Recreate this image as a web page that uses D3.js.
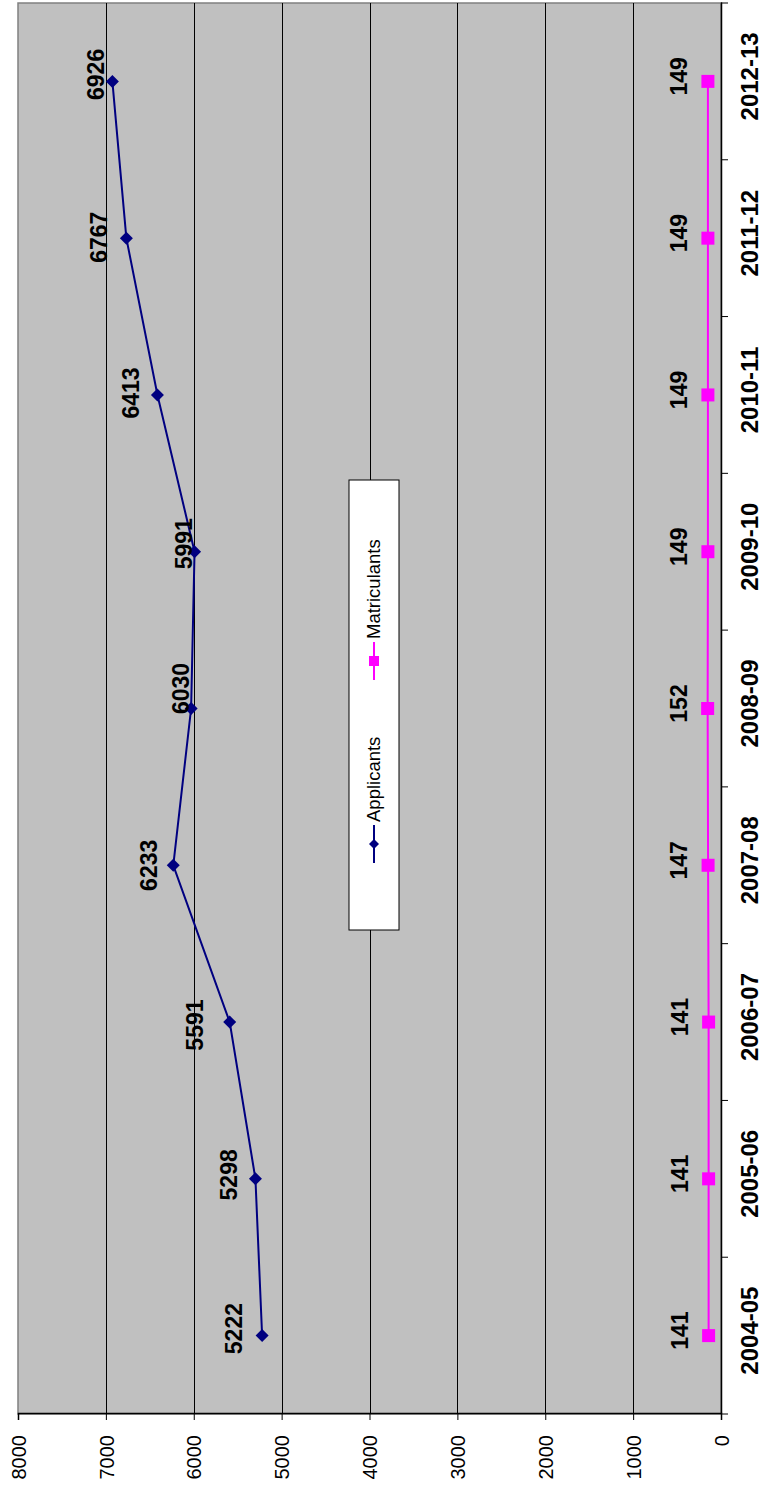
<!DOCTYPE html>
<html>
<head>
<meta charset="utf-8">
<script src="https://cdn.jsdelivr.net/npm/d3@7"></script>
<style>
  html, body { margin: 0; padding: 0; background: #ffffff; }
  svg { display: block; }
  text { font-family: "Liberation Sans", Arial, sans-serif; }
</style>
</head>
<body>
<script>
// ---- data ----
const categories = ["2004-05", "2005-06", "2006-07", "2007-08", "2008-09", "2009-10", "2010-11", "2011-12", "2012-13"];
const applicants = [5222, 5298, 5591, 6233, 6030, 5991, 6413, 6767, 6926];
const matriculants = [141, 141, 141, 147, 152, 149, 149, 149, 149];
const valueTicks = [0, 1000, 2000, 3000, 4000, 5000, 6000, 7000, 8000];
const seriesNames = ["Applicants", "Matriculants"];

// ---- layout (chart is drawn unrotated, then turned -90deg) ----
const W = 763, H = 1487;          // screen size
const plot = { left: 73, right: 1484, top: 18, bottom: 721 };
// per-label nudges for applicant labels [dx, baseline offset] (px, unrotated frame)
const appLabelShift = [[7, -20], [4, -18], [-3, -27], [0, -16], [20, -2], [8, -3], [2, -18], [1, -19], [7, -8]];

const svg = d3.select("body").append("svg").attr("width", W).attr("height", H);
const g = svg.append("g").attr("transform", `translate(0,${H}) rotate(-90)`);

const x = d3.scaleBand().domain(categories).range([plot.left, plot.right]).padding(0);
const y = d3.scaleLinear().domain([0, 8000]).range([plot.bottom, plot.top]);
const cx = d => x(d) + x.bandwidth() / 2;

// plot background
g.append("rect")
  .attr("x", plot.left).attr("y", plot.top)
  .attr("width", plot.right - plot.left).attr("height", plot.bottom - plot.top)
  .attr("fill", "#C0C0C0").attr("stroke", "#808080").attr("stroke-width", 1.5);

// gridlines
g.append("g").selectAll("line")
  .data(valueTicks.filter(v => v > 0 && v < 8000))
  .join("line")
  .attr("x1", plot.left).attr("x2", plot.right)
  .attr("y1", d => Math.round(y(d)) + 0.5).attr("y2", d => Math.round(y(d)) + 0.5)
  .attr("stroke", "#000").attr("stroke-width", 1);

// value axis
const yAxis = d3.axisLeft(y).tickValues(valueTicks).tickSize(6).tickPadding(15).tickFormat(d3.format("d"));
const ya = g.append("g").attr("transform", `translate(${plot.left},0)`).call(yAxis);
ya.select(".domain").attr("stroke", "#000").attr("stroke-width", 1.5);
ya.selectAll(".tick line").attr("stroke", "#000");
ya.selectAll(".tick text").attr("font-size", 20).attr("fill", "#000")
  .attr("font-family", "'Liberation Sans', Arial, sans-serif").attr("dy", "0.36em");

// category axis
const xAxis = d3.axisBottom(x).tickSize(0).tickFormat(d => d);
const xa = g.append("g").attr("transform", `translate(0,${plot.bottom})`).call(xAxis);
xa.select(".domain").attr("stroke", "#000").attr("stroke-width", 1.5);
xa.selectAll(".tick text").attr("font-size", 24).attr("font-weight", "bold").attr("fill", "#000")
  .attr("font-family", "'Liberation Sans', Arial, sans-serif")
  .attr("y", 37).attr("dy", 0).attr("dx", 5);
// tick marks between categories
g.append("g").selectAll("line")
  .data(d3.range(categories.length + 1))
  .join("line")
  .attr("x1", i => plot.left + i * x.bandwidth()).attr("x2", i => plot.left + i * x.bandwidth())
  .attr("y1", plot.bottom).attr("y2", plot.bottom + 7)
  .attr("stroke", "#000").attr("stroke-width", 1);

// series
const line = d3.line().x((d, i) => cx(categories[i])).y(d => y(d));
const diamond = s => `M0,${-s}L${s},0L0,${s}L${-s},0Z`;

g.append("path").datum(applicants).attr("d", line)
  .attr("fill", "none").attr("stroke", "#000080").attr("stroke-width", 2);
g.append("path").datum(matriculants).attr("d", line)
  .attr("fill", "none").attr("stroke", "#FF00FF").attr("stroke-width", 2);

g.append("g").selectAll("path").data(applicants).join("path")
  .attr("transform", (d, i) => `translate(${cx(categories[i])},${y(d)})`)
  .attr("d", diamond(6.5)).attr("fill", "#000080");
g.append("g").selectAll("rect").data(matriculants).join("rect")
  .attr("x", (d, i) => cx(categories[i]) - 6.5).attr("y", d => y(d) - 6.5)
  .attr("width", 13).attr("height", 13).attr("fill", "#FF00FF");

// data labels
g.append("g").selectAll("text").data(applicants).join("text")
  .attr("x", (d, i) => cx(categories[i]) + appLabelShift[i][0])
  .attr("y", (d, i) => y(d) + appLabelShift[i][1])
  .attr("text-anchor", "middle").attr("font-size", 23).attr("font-weight", "bold")
  .text(d => d);
g.append("g").selectAll("text").data(matriculants).join("text")
  .attr("x", (d, i) => cx(categories[i]) + 5)
  .attr("y", d => y(d) - 21)
  .attr("text-anchor", "middle").attr("font-size", 23).attr("font-weight", "bold")
  .text(d => d);

// legend
const lg = g.append("g").attr("transform", "translate(557,349)");
lg.append("rect").attr("width", 450).attr("height", 50).attr("fill", "#fff").attr("stroke", "#000").attr("stroke-width", 1);
const items = [
  { name: seriesNames[0], x0: 67, color: "#000080", shape: "diamond" },
  { name: seriesNames[1], x0: 250, color: "#FF00FF", shape: "square" }
];
items.forEach(it => {
  lg.append("line").attr("x1", it.x0).attr("x2", it.x0 + 38).attr("y1", 25).attr("y2", 25)
    .attr("stroke", it.color).attr("stroke-width", 2);
  if (it.shape === "diamond") {
    lg.append("path").attr("transform", `translate(${it.x0 + 19},25)`).attr("d", diamond(5)).attr("fill", it.color);
  } else {
    lg.append("rect").attr("x", it.x0 + 14).attr("y", 20).attr("width", 10).attr("height", 10).attr("fill", it.color);
  }
  lg.append("text").attr("x", it.x0 + 41).attr("y", 25).attr("dy", "0.35em")
    .attr("font-size", 18.5).attr("fill", "#000").text(it.name);
});
</script>
</body>
</html>
